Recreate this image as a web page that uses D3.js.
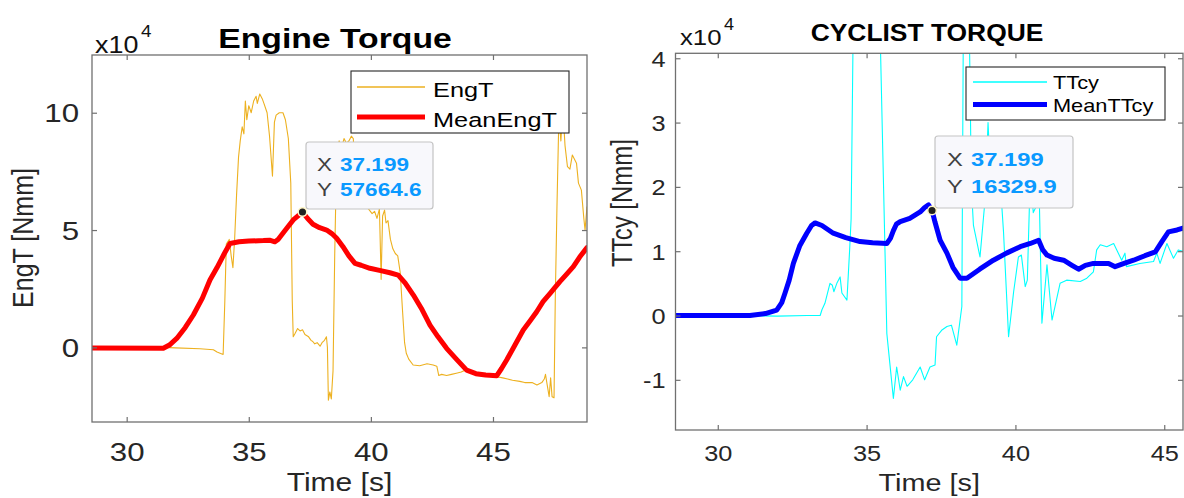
<!DOCTYPE html>
<html><head><meta charset="utf-8">
<script src="https://cdn.jsdelivr.net/npm/d3@7"></script>
<style>
html,body{margin:0;padding:0;background:#fff;}
svg{display:block;}
</style></head><body>
<svg id="chart" width="1184" height="498"></svg>
<script>
// ---------------- DATA (values in units of 10^4 Nmm, time in s) ----------------
const xTicks = [30, 35, 40, 45];
const engYTicks = [0, 5, 10];
const cyYTicks = [-1, 0, 1, 2, 3, 4];
const exponentLabel = "4";

const engT = [[28.58,0],[31.5,0],[32.0,-0.02],[33.0,-0.06],[33.55,-0.1],[33.7,-0.2],[33.95,-0.3],[34.02,2.0],[34.08,4.4],[34.2,4.6],[34.28,3.9],[34.35,3.4],[34.42,4.6],[34.5,6.5],[34.58,8.1],[34.65,8.8],[34.73,9.4],[34.8,9.1],[34.86,10.5],[34.92,9.7],[35.0,10.3],[35.1,10.0],[35.2,10.5],[35.3,10.7],[35.35,10.4],[35.45,10.8],[35.55,10.6],[35.62,10.4],[35.75,10.0],[35.85,9.0],[35.97,7.3],[36.05,9.6],[36.12,9.9],[36.25,10.0],[36.4,10.0],[36.5,9.7],[36.62,8.9],[36.72,7.0],[36.78,2.0],[36.82,0.45],[36.9,0.6],[37.0,0.8],[37.1,0.7],[37.2,0.75],[37.3,0.55],[37.45,0.45],[37.55,0.3],[37.62,0.25],[37.7,0.15],[37.8,0.2],[37.92,0.05],[38.0,0.2],[38.1,0.3],[38.18,0.45],[38.22,0.0],[38.26,-2.25],[38.32,-1.9],[38.38,-2.2],[38.45,-1.0],[38.52,4.0],[38.6,8.3],[38.7,8.8],[38.8,8.5],[38.9,8.9],[39.0,8.7],[39.1,8.8],[39.2,9.0],[39.28,8.9],[39.35,7.5],[39.5,6.8],[39.7,6.3],[39.9,5.9],[40.05,5.7],[40.15,5.8],[40.25,5.5],[40.35,5.9],[40.42,2.9],[40.48,5.6],[40.56,5.85],[40.62,5.3],[40.7,5.4],[40.8,4.6],[40.9,4.2],[41.0,4.0],[41.1,3.9],[41.2,3.2],[41.3,1.5],[41.38,0.2],[41.45,-0.25],[41.55,-0.5],[41.73,-0.75],[42.0,-0.78],[42.3,-0.7],[42.55,-0.75],[42.7,-0.8],[42.78,-1.2],[42.9,-1.15],[43.1,-1.2],[43.3,-1.15],[43.5,-1.1],[43.7,-1.05],[43.9,-0.95],[44.0,-1.05],[44.3,-1.1],[44.6,-1.2],[44.9,-1.2],[45.15,-1.25],[45.4,-1.3],[45.6,-1.35],[45.8,-1.4],[46.1,-1.45],[46.3,-1.5],[46.6,-1.5],[46.8,-1.6],[47.0,-1.5],[47.1,-1.35],[47.15,-1.15],[47.22,-1.6],[47.3,-2.1],[47.36,-1.3],[47.42,-2.1],[47.5,-2.15],[47.55,2.0],[47.62,6.0],[47.7,9.9],[47.78,8.8],[47.86,10.2],[47.95,8.6],[48.05,7.7],[48.15,7.6],[48.25,8.2],[48.42,7.85],[48.5,7.0],[48.62,6.7],[48.72,5.5],[48.77,5.0],[48.85,6.0]];

const meanEngT = [[28.58,-0.03],[31.5,-0.04],[31.75,0.1],[32.05,0.38],[32.4,0.85],[32.73,1.38],[33.1,2.1],[33.41,2.87],[33.7,3.4],[34.0,4.0],[34.23,4.43],[34.6,4.5],[35.0,4.53],[35.6,4.55],[35.85,4.57],[36.07,4.5],[36.2,4.6],[36.5,5.0],[36.82,5.43],[37.199,5.766],[37.4,5.5],[37.63,5.25],[37.9,5.1],[38.19,5.0],[38.4,4.85],[38.6,4.65],[38.85,4.3],[39.1,3.9],[39.35,3.58],[39.6,3.5],[39.96,3.37],[40.4,3.27],[40.78,3.18],[41.12,3.08],[41.4,2.75],[41.74,2.23],[42.1,1.6],[42.42,0.95],[42.75,0.45],[43.1,-0.04],[43.5,-0.5],[43.92,-0.97],[44.3,-1.12],[44.7,-1.18],[45.15,-1.21],[45.35,-0.9],[45.56,-0.54],[45.9,0.1],[46.24,0.74],[46.5,1.1],[46.79,1.52],[47.05,1.95],[47.34,2.3],[47.5,2.5],[47.74,2.8],[48.0,3.1],[48.29,3.44],[48.55,3.85],[48.85,4.25]];

const tTcy = [[28.58,0],[31.0,0],[32.0,-0.01],[33.0,0.0],[33.44,0.0],[33.5,0.09],[33.6,0.19],[33.77,0.5],[33.85,0.47],[33.9,0.37],[34.0,0.5],[34.11,0.6],[34.17,0.35],[34.34,0.24],[34.43,1.02],[34.48,1.5],[34.55,4.5],[35.45,4.5],[35.68,-0.28],[35.78,-0.74],[35.9,-1.29],[36.01,-0.8],[36.13,-1.16],[36.24,-0.95],[36.36,-1.1],[36.55,-1.0],[36.8,-0.8],[36.95,-1.0],[37.13,-0.8],[37.3,-0.77],[37.35,-0.33],[37.52,-0.23],[37.7,-0.17],[37.85,-0.15],[38.03,-0.46],[38.2,0.14],[38.25,4.5],[38.45,4.5],[38.52,2.0],[38.59,1.4],[38.81,0.91],[38.98,1.8],[39.08,3.0],[39.2,1.8],[39.35,1.7],[39.5,2.0],[39.6,1.3],[39.77,-0.33],[39.94,0.37],[40.1,0.91],[40.2,0.94],[40.33,0.45],[40.4,0.55],[40.5,2.2],[40.6,1.6],[40.7,1.7],[40.78,2.3],[40.89,-0.12],[41.06,0.79],[41.23,-0.07],[41.5,0.5],[41.72,0.55],[42.18,0.53],[42.4,0.58],[42.62,0.68],[42.73,1.02],[42.85,1.1],[43.07,1.07],[43.3,1.12],[43.57,0.86],[43.68,0.97],[43.73,0.76],[44.18,0.81],[44.64,0.84],[44.75,0.97],[44.86,0.81],[45.09,1.12],[45.31,0.89],[45.47,1.02],[45.63,1.0]];

const meanTTcy = [[28.58,0],[31.08,0],[31.6,0.03],[31.98,0.085],[32.15,0.2],[32.26,0.35],[32.4,0.55],[32.54,0.81],[32.75,1.08],[32.99,1.28],[33.15,1.4],[33.27,1.44],[33.5,1.4],[33.88,1.28],[34.3,1.21],[34.78,1.15],[35.2,1.13],[35.68,1.12],[35.8,1.2],[35.9,1.32],[36.0,1.42],[36.13,1.46],[36.45,1.51],[36.8,1.61],[36.95,1.68],[37.08,1.72],[37.199,1.633],[37.3,1.45],[37.47,1.17],[37.7,0.97],[37.9,0.75],[38.14,0.58],[38.37,0.58],[38.8,0.72],[39.26,0.86],[39.7,0.97],[40.16,1.07],[40.5,1.12],[40.78,1.17],[40.92,1.02],[41.06,0.94],[41.3,0.89],[41.62,0.86],[41.9,0.78],[42.12,0.72],[42.35,0.78],[42.62,0.81],[42.9,0.81],[43.13,0.81],[43.35,0.76],[43.65,0.81],[43.97,0.86],[44.35,0.93],[44.7,0.99],[44.92,1.15],[45.14,1.3],[45.43,1.33],[45.63,1.36]];

const engTip = [37.199, 5.76646];
const cyTip = [37.199, 1.63299];

// ---------------- RENDER ----------------
const FONT = '"Liberation Sans", Arial, Helvetica, sans-serif';
const AXC = "#707070";
const TXC = "#262626";
const svg = d3.select("#chart").attr("font-family", FONT);

function txt(parent, s, x, y, o) {
  return parent.append("text").text(s)
    .attr("transform", `translate(${x},${y}) scale(${o.sx || 1},1)` + (o.rot ? ` rotate(${o.rot})` : ""))
    .attr("font-size", o.size).attr("font-weight", o.weight || "normal")
    .attr("fill", o.fill || TXC).attr("text-anchor", o.anchor || "start")
    .attr("font-family", FONT);
}

function panel(c) {
  const x = d3.scaleLinear().domain(c.xDom).range(c.xRange);
  const y = d3.scaleLinear().domain(c.yDom).range(c.yRange);
  const [x0, x1] = c.xRange, [y1, y0] = c.yRange; // y0 top, y1 bottom
  const g = svg.append("g");
  svg.append("clipPath").attr("id", c.id + "clip").append("rect")
    .attr("x", x0).attr("y", y0).attr("width", x1 - x0).attr("height", y1 - y0);
  const line = d3.line().x(d => x(d[0])).y(d => y(d[1]));
  const plot = g.append("g").attr("clip-path", `url(#${c.id}clip)`);
  plot.append("path").datum(c.raw).attr("d", line).attr("fill", "none")
    .attr("stroke", c.rawColor).attr("stroke-width", 1.1).attr("stroke-linejoin", "round");
  plot.append("path").datum(c.mean).attr("d", line).attr("fill", "none")
    .attr("stroke", c.meanColor).attr("stroke-width", 5).attr("stroke-linejoin", "round").attr("stroke-linecap", "round");

  // axes
  const sx = c.tickSx;
  const ab = g.append("g").attr("transform", `translate(0,${y1})`)
    .call(d3.axisBottom(x).tickValues(xTicks).tickSize(-5).tickSizeOuter(0).tickFormat(d => String(d)));
  const at = g.append("g").attr("transform", `translate(0,${y0})`)
    .call(d3.axisTop(x).tickValues(xTicks).tickSize(-5).tickSizeOuter(0).tickFormat(""));
  const al = g.append("g").attr("transform", `translate(${x0},0)`)
    .call(d3.axisLeft(y).tickValues(c.yTicks).tickSize(-5).tickSizeOuter(0).tickFormat(d => String(d)));
  const ar = g.append("g").attr("transform", `translate(${x1},0)`)
    .call(d3.axisRight(y).tickValues(c.yTicks).tickSize(-5).tickSizeOuter(0).tickFormat(""));
  [ab, at, al, ar].forEach(a => {
    a.select(".domain").remove();
    a.selectAll("line").attr("stroke", AXC).attr("stroke-width", 1.2);
  });
  ab.selectAll("text").attr("y", c.xTickBase).attr("dy", null)
    .attr("transform", `scale(${sx},1)`).attr("font-size", c.tickSize)
    .attr("font-family", FONT).attr("fill", TXC);
  al.selectAll("text").attr("x", -c.yTickGap / sx).attr("dy", "0.36em")
    .attr("transform", `scale(${sx},1)`).attr("font-size", c.tickSize)
    .attr("font-family", FONT).attr("fill", TXC);
  g.append("rect").attr("x", x0).attr("y", y0).attr("width", x1 - x0).attr("height", y1 - y0)
    .attr("fill", "none").attr("stroke", AXC).attr("stroke-width", 1.3);

  // labels
  txt(g, "Time [s]", (x0 + x1) / 2, c.xLabelY, {size: c.labSize, sx: c.labSx, anchor: "middle"});
  txt(g, c.yLabel, c.yLabelX, c.yLabelY, {size: c.labSize, sx: c.labSx, anchor: "middle", rot: -90});
  txt(g, c.title, c.titleX, c.titleY, {size: c.titleSize, sx: c.titleSx, anchor: "middle", weight: "bold", fill: "#000"});
  txt(g, "x10", c.expX, c.expY, {size: c.expSize, sx: c.expSx, fill: "#111"});
  txt(g, exponentLabel, c.expX + c.expW, c.expY - c.expSize * 0.66, {size: c.expSize * 0.7, sx: c.expSx, fill: "#111"});

  // legend
  const L = c.legend;
  g.append("rect").attr("x", L.x).attr("y", L.y).attr("width", L.w).attr("height", L.h)
    .attr("fill", "#fff").attr("stroke", "#262626").attr("stroke-width", 1.1);
  [[c.rawName, c.rawColor, 1.4], [c.meanName, c.meanColor, 5]].forEach((e, i) => {
    const ly = L.y + L.row0 + i * L.rowH;
    g.append("line").attr("x1", L.x + L.lx0).attr("x2", L.x + L.lx1).attr("y1", ly).attr("y2", ly)
      .attr("stroke", e[1]).attr("stroke-width", e[2]);
    txt(g, e[0], L.x + L.tx, ly + L.base, {size: L.size, sx: L.sx, fill: "#000"});
  });

  // datatip
  const T = c.tip, tp = c.tipPt;
  const px = x(tp[0]), py = y(tp[1]);
  g.append("rect").attr("x", T.x).attr("y", T.y).attr("width", T.w).attr("height", T.h).attr("rx", 3)
    .attr("fill", "#f8f8fc").attr("stroke", "#c4c4c4").attr("stroke-width", 1.2);
  const rows = [["X", d3.format(".3f")(tp[0])], ["Y", d3.format(".1f")(tp[1] * 1e4)]];
  rows.forEach((r, i) => {
    const by = T.y + T.base0 + i * T.rowH;
    txt(g, r[0], T.x + T.lx, by, {size: T.size, sx: T.sx, fill: "#404040"});
    txt(g, r[1], T.x + T.vx, by, {size: T.size, sx: T.sx, fill: "#0a99ff", weight: "bold"});
  });
  g.append("circle").attr("cx", px).attr("cy", py).attr("r", 4.3)
    .attr("fill", "#222").attr("stroke", "#fff6c8").attr("stroke-width", 1.5);
}

panel({
  id: "eng", xDom: [28.58, 48.85], xRange: [92, 587], yDom: [-3.18, 12.46], yRange: [422, 55],
  yTicks: engYTicks, raw: engT, mean: meanEngT, rawColor: "#EDB120", meanColor: "#ff0000",
  rawName: "EngT", meanName: "MeanEngT",
  tickSx: 1.25, tickSize: 25, xTickBase: 39, yTickGap: 13,
  labSize: 25, labSx: 1.2, xLabelY: 491, yLabel: "EngT [Nmm]", yLabelX: 33, yLabelY: 238,
  title: "Engine Torque", titleX: 335, titleY: 48, titleSize: 27, titleSx: 1.25,
  expX: 95, expY: 53, expSize: 24, expSx: 1.12, expW: 46,
  legend: {x: 351, y: 71, w: 218, h: 62, row0: 16, rowH: 30, lx0: 6, lx1: 74, tx: 82, base: 10, size: 19.5, sx: 1.3},
  tip: {x: 306, y: 142, w: 127, h: 67, base0: 29, rowH: 25, lx: 11, vx: 34, size: 18.5, sx: 1.22},
  tipPt: engTip
});

panel({
  id: "cy", xDom: [28.58, 45.63], xRange: [675.5, 1183], yDom: [-1.78, 4.077], yRange: [430, 53.3],
  yTicks: cyYTicks, raw: tTcy, mean: meanTTcy, rawColor: "#00ffff", meanColor: "#0000ff",
  rawName: "TTcy", meanName: "MeanTTcy",
  tickSx: 1.15, tickSize: 22, xTickBase: 31, yTickGap: 10,
  labSize: 24, labSx: 1.2, xLabelY: 491, yLabel: "TTcy [Nmm]", yLabelX: 632, yLabelY: 203,
  title: "CYCLIST TORQUE", titleX: 927, titleY: 41, titleSize: 24, titleSx: 1.1,
  expX: 680, expY: 45, expSize: 23, expSx: 1.12, expW: 44,
  legend: {x: 966, y: 67, w: 199, h: 53, row0: 15, rowH: 22.5, lx0: 7, lx1: 81, tx: 87, base: 7, size: 18.6, sx: 1.17},
  tip: {x: 935, y: 136, w: 138, h: 72, base0: 30, rowH: 26.7, lx: 12, vx: 36, size: 19, sx: 1.25},
  tipPt: cyTip
});
</script>
</body></html>
